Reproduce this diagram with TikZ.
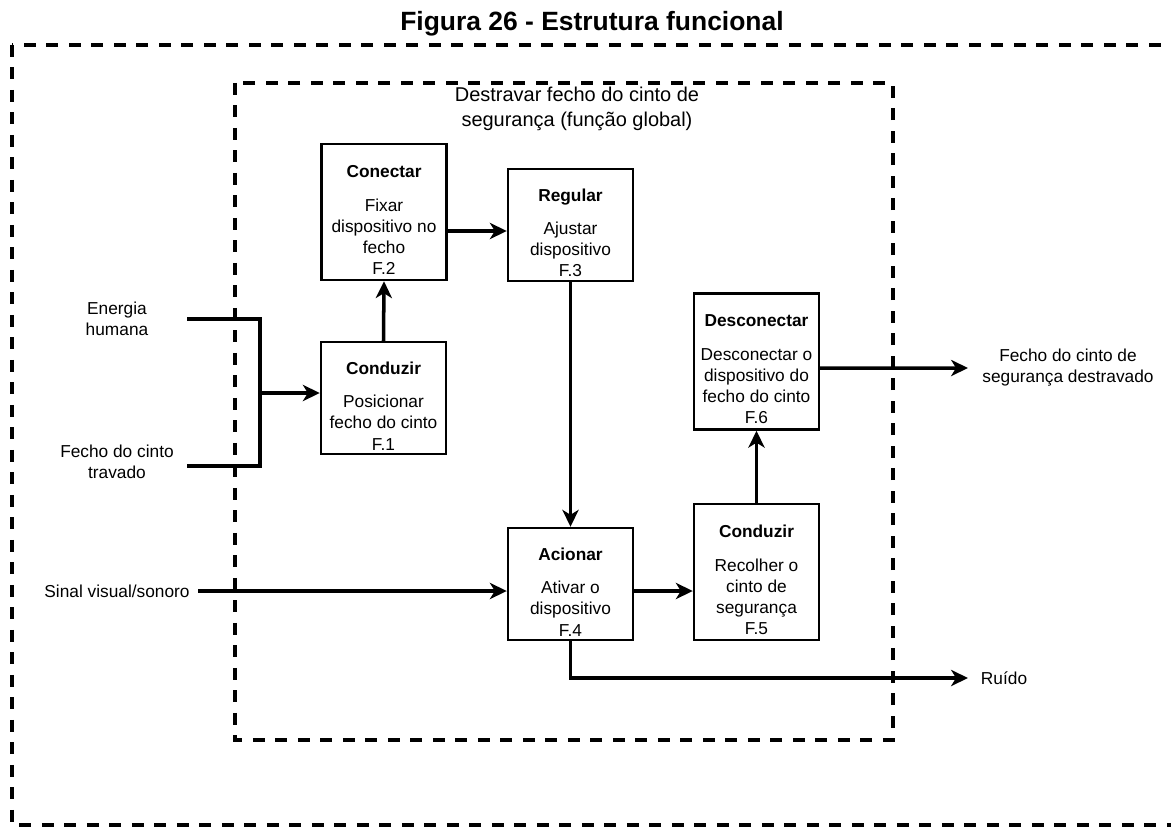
\documentclass[tikz,border=0pt]{standalone}
\usepackage{fontspec}
\setmainfont{Liberation Sans}
\usetikzlibrary{arrows.meta}

% title line of a function box, with some room above it
\newcommand{\fntitle}[1]{\textbf{\rule{0pt}{20pt}#1}\\[9pt]}

\begin{document}
\begin{tikzpicture}[
    x=0.025cm, y=-0.025cm,
    every node/.style={font=\fontsize{12.3}{15}\selectfont, align=center},
    func/.style={draw, line width=1.7pt, inner sep=1pt, minimum width=3.125cm},
    short/.style={func, minimum height=2.8cm},
    tall/.style={func, minimum height=3.4cm},
    flow/.style={line width=2.5pt},
    arr/.style={flow, -{Stealth[length=12pt, width=11.5pt, inset=3.5pt]}},
    border/.style={line width=2.6pt, dash pattern=on 8.5pt off 7.5pt}
]
\useasboundingbox (0,0) rectangle (1171,827);

% Title
\node[font=\fontsize{18.8}{22}\selectfont\bfseries] (title) at (592,24) {Figura 26 - Estrutura funcional};

% System borders
\draw[border] (12,45) rectangle (1190,825);
\draw[border] (235,83) rectangle (893,740);
\node[font=\fontsize{14.2}{17.5}\selectfont] (global) at (577,109) {Destravar fecho do cinto de\\segurança (função global)};

% Functions
\node[tall]  (conectar)    at (384,212)   {\fntitle{Conectar}Fixar\\dispositivo no\\fecho\\F.2};
\node[short] (regular)     at (570.5,225) {\fntitle{Regular}Ajustar\\dispositivo\\F.3};
\node[short] (conduzirA)   at (383.5,398) {\fntitle{Conduzir}Posicionar\\fecho do cinto\\F.1};
\node[tall]  (desconectar) at (756.5,361.5) {\fntitle{Desconectar}Desconectar o\\dispositivo do\\fecho do cinto\\F.6};
\node[short] (acionar)     at (570.5,584) {\fntitle{Acionar}Ativar o\\dispositivo\\F.4};
\node[tall]  (conduzirB)   at (756.5,572) {\fntitle{Conduzir}Recolher o\\cinto de\\segurança\\F.5};

% Inputs and outputs
\node (energia)    at (117,318.5) {Energia\\humana};
\node (travado)    at (117,461.5) {Fecho do cinto\\travado};
\node (sinal)      at (117,591)   {Sinal visual/sonoro};
\node (destravado) at (1068,368)  {Fecho do cinto de\\segurança destravado};
\node[anchor=west] (ruido) at (976,678) {Ruído};

\coordinate (inE) at (187,319);
\coordinate (inT) at (187,466);
\coordinate (jn)  at (260,393);
\coordinate (inS) at (198,591);
\coordinate (outD) at (968,368);
\coordinate (outR) at (968,678);

% Flows
\draw[flow] (inE) -| (jn);
\draw[flow] (inT) -| (jn);
\draw[arr] (jn) -- (jn -| conduzirA.west);
\draw[arr] (conduzirA.north) -- (conectar.south);
\draw[arr] ([yshift=-0.475cm]conectar.east) -- ([yshift=-0.15cm]regular.west);
\draw[arr] (regular.south) -- (acionar.north);
\draw[arr] (inS) -- ([yshift=-0.175cm]acionar.west);
\draw[arr] ([yshift=-0.175cm]acionar.east) -- ([yshift=-0.175cm]acionar.east -| conduzirB.west);
\draw[arr] (conduzirB.north) -- (desconectar.south);
\draw[arr] ([yshift=-0.165cm]desconectar.east) -- (outD);
\draw[arr] (acionar.south) |- (outR);
\end{tikzpicture}
\end{document}
